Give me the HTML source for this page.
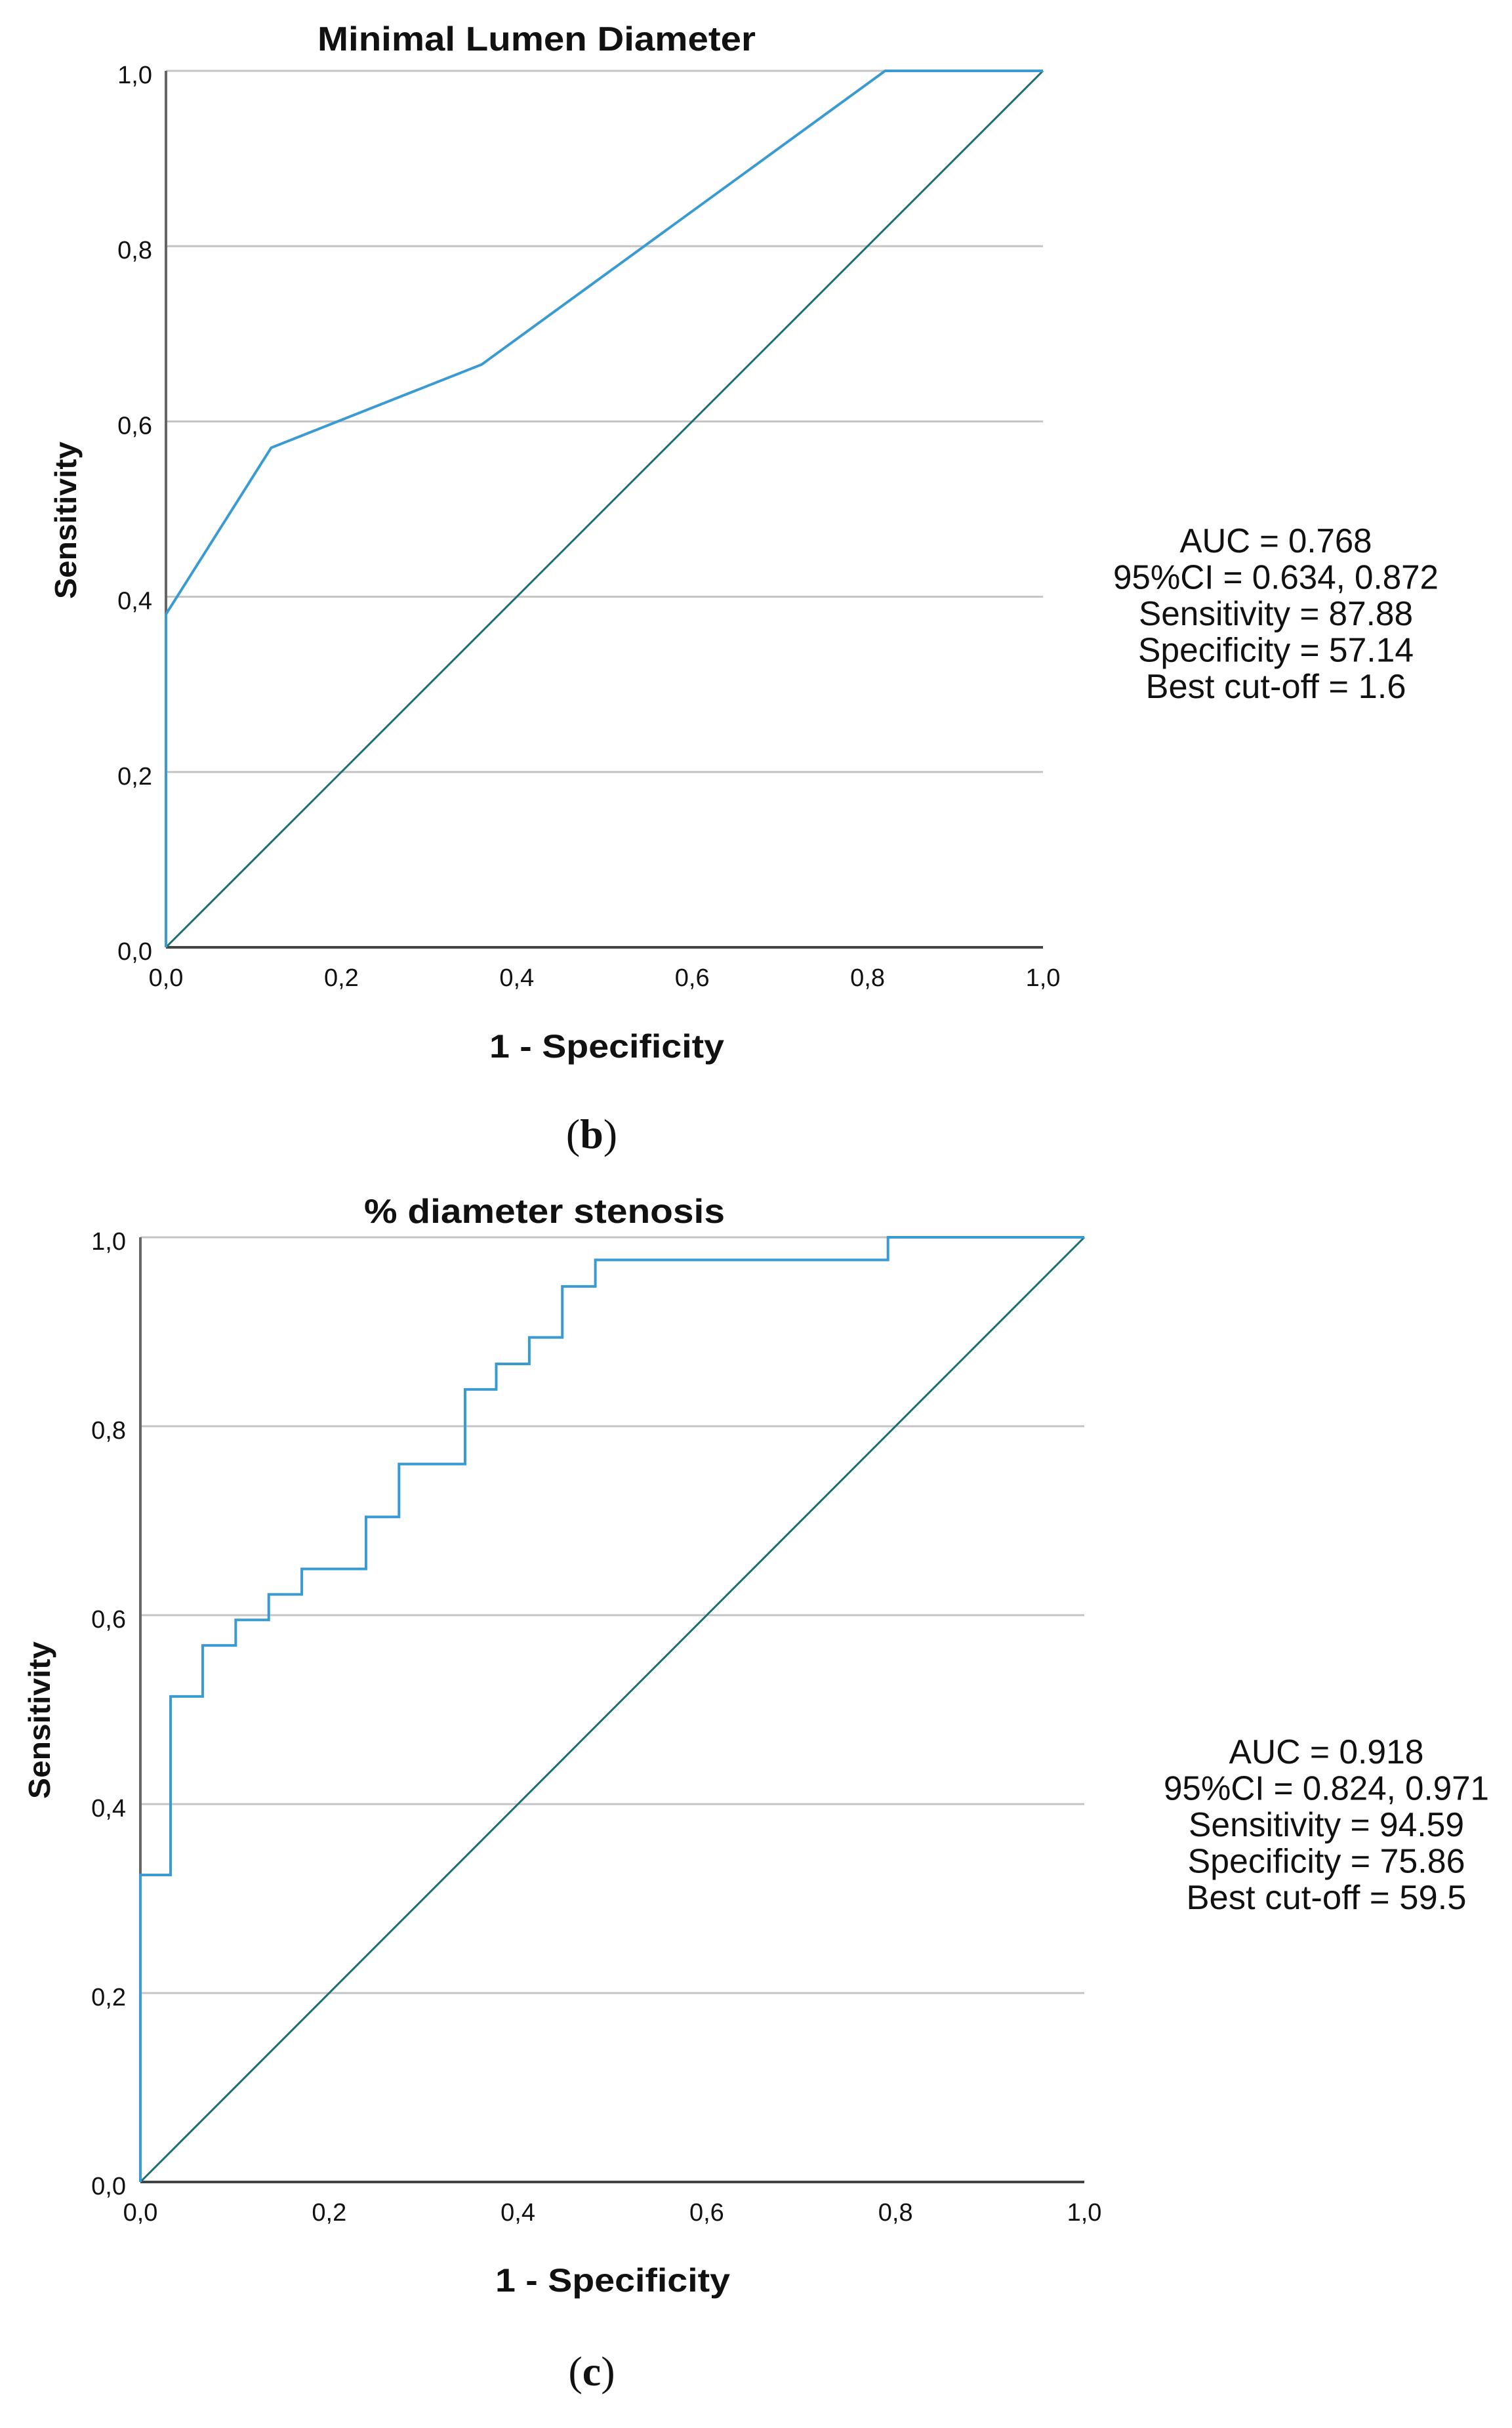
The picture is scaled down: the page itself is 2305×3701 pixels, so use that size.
<!DOCTYPE html>
<html><head><meta charset="utf-8"><style>
html,body{margin:0;padding:0;background:#fff;}
svg{display:block;}
text{font-family:"Liberation Sans",sans-serif;fill:#111;}
</style></head><body>
<svg id="fig" width="2305" height="3701" viewBox="0 0 2305 3701" xmlns="http://www.w3.org/2000/svg">
<rect width="2305" height="3701" fill="#fff"/>
<g id="c1"></g>
<g id="c2"></g>
</svg>
<script>
const ticks = [0, 0.2, 0.4, 0.6, 0.8, 1.0];
const tickLabels = ["0,0", "0,2", "0,4", "0,6", "0,8", "1,0"];
const roc1X = [0, 0, 0.12, 0.36, 0.82, 1.0];
const roc1Y = [0, 0.38, 0.57, 0.665, 1.0, 1.0];
const roc2X = [0, 0.032, 0.066, 0.101, 0.136, 0.171, 0.239, 0.274, 0.344, 0.377, 0.412, 0.447, 0.482, 0.792, 1.0];
const roc2Y = [0.325, 0.514, 0.568, 0.595, 0.622, 0.649, 0.704, 0.760, 0.839, 0.866, 0.894, 0.948, 0.976, 1.0, 1.0];
const stats1 = ["AUC = 0.768", "95%CI = 0.634, 0.872", "Sensitivity = 87.88", "Specificity = 57.14", "Best cut-off = 1.6"];
const stats2 = ["AUC = 0.918", "95%CI = 0.824, 0.971", "Sensitivity = 94.59", "Specificity = 75.86", "Best cut-off = 59.5"];
const statsW1 = [293, 496, 418, 420, 397];
const statsW2 = [297, 496, 420, 423, 427];

const NS = "http://www.w3.org/2000/svg";
function mk(parent, tag, attrs, txt) {
  const e = document.createElementNS(NS, tag);
  for (const k in attrs) e.setAttribute(k, attrs[k]);
  if (txt !== undefined) e.textContent = txt;
  parent.appendChild(e);
  return e;
}

function drawChart(g, cfg) {
  const sx = v => cfg.x0 + v * (cfg.x1 - cfg.x0);
  const sy = v => cfg.y0 - v * (cfg.y0 - cfg.y1);
  ticks.forEach((t, i) => {
    if (t === 0) return;
    const l = mk(g, "line", {x1: sx(0), x2: sx(1), y1: sy(t), y2: sy(t), stroke: "#c4c4c4", "stroke-width": 3});
    
    
  });
  const ya = mk(g, "line", {x1: sx(0), x2: sx(0), y1: sy(0), y2: sy(1), stroke: "#666", "stroke-width": 4});
  
  
  const xa = mk(g, "line", {x1: sx(0), x2: sx(1), y1: sy(0), y2: sy(0), stroke: "#444", "stroke-width": 4});
  
  
  ticks.forEach((t, i) => {
    const yl = mk(g, "text", {x: cfg.yLabRight, y: sy(t) + 19, "text-anchor": "end", "font-size": 38}, tickLabels[i]);
    
    
    const xl = mk(g, "text", {x: sx(t), y: cfg.xLabBase, "text-anchor": "middle", "font-size": 38}, tickLabels[i]);
    
    
  });
  const d = mk(g, "line", {x1: sx(0), y1: sy(0), x2: sx(1), y2: sy(1), stroke: "#1d6e72", "stroke-width": 3});
  
  
  let pts;
  if (cfg.step) {
    pts = [[sx(0), sy(0)], [sx(0), sy(cfg.ys[0])]];
    for (let i = 1; i < cfg.xs.length; i++) {
      pts.push([sx(cfg.xs[i]), sy(cfg.ys[i - 1])]);
      pts.push([sx(cfg.xs[i]), sy(cfg.ys[i])]);
    }
  } else {
    pts = cfg.xs.map((x, i) => [sx(x), sy(cfg.ys[i])]);
  }
  const p = mk(g, "polyline", {points: pts.map(q => q.join(",")).join(" "), fill: "none", stroke: "#3a9bd2", "stroke-width": 4, "stroke-linejoin": "miter"});
  
  
  const t = mk(g, "text", {x: cfg.titleX, y: cfg.titleY, "text-anchor": "middle", "font-size": 52, "font-weight": "bold", textLength: cfg.titleW, lengthAdjust: "spacingAndGlyphs"}, cfg.title);
  
  
  const xt = mk(g, "text", {x: cfg.xtX, y: cfg.xtY, "text-anchor": "middle", "font-size": 50, "font-weight": "bold", textLength: 358, lengthAdjust: "spacingAndGlyphs"}, "1 - Specificity");
  
  
  const yt = mk(g, "text", {x: 0, y: 0, "text-anchor": "middle", "font-size": 46, "font-weight": "bold", textLength: 240, lengthAdjust: "spacingAndGlyphs", transform: `translate(${cfg.ytX},${cfg.ytY}) rotate(-90)`}, "Sensitivity");
  
  
  cfg.stats.forEach((s, i) => {
    const st = mk(g, "text", {x: cfg.stX, y: cfg.stY + i * 55.5, "text-anchor": "middle", "font-size": 52, textLength: cfg.statsW[i], lengthAdjust: "spacingAndGlyphs", fill: "#222"}, s);
    
    
  });
  const lab = mk(g, "text", {x: 902, y: cfg.capY, "text-anchor": "middle", "font-size": 64, style: 'font-family:"Liberation Serif",serif'});
  mk(lab, "tspan", {}, "(");
  mk(lab, "tspan", {"font-weight": "bold"}, cfg.cap);
  mk(lab, "tspan", {}, ")");
  
  
}

drawChart(document.getElementById("c1"), {
  x0: 253, x1: 1590, y0: 1444, y1: 108, xs: roc1X, ys: roc1Y, step: false,
  yLabRight: 232, xLabBase: 1503, title: "Minimal Lumen Diameter", titleX: 818, titleY: 77, titleW: 668,
  xtX: 925, xtY: 1612, ytX: 116, ytY: 793, stats: stats1, statsW: statsW1, stX: 1945, stY: 842, cap: "b", capY: 1750
});
drawChart(document.getElementById("c2"), {
  x0: 214, x1: 1653, y0: 3326, y1: 1886, xs: roc2X, ys: roc2Y, step: true,
  yLabRight: 192, xLabBase: 3385, title: "% diameter stenosis", titleX: 830, titleY: 1864, titleW: 550,
  xtX: 934, xtY: 3493, ytX: 76, ytY: 2622, stats: stats2, statsW: statsW2, stX: 2022, stY: 2688, cap: "c", capY: 3636
});
</script>
</body></html>
